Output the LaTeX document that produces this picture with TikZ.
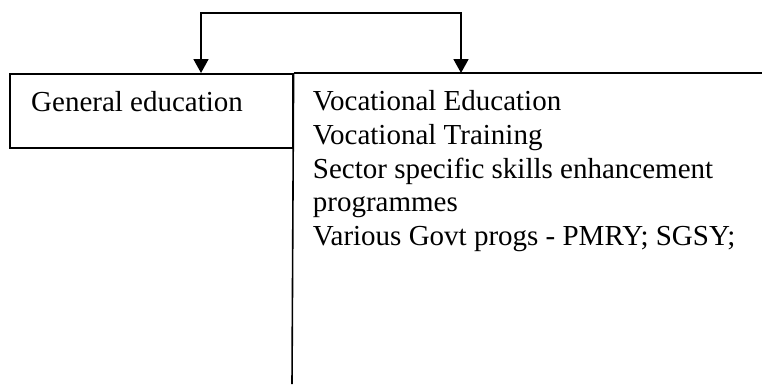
\documentclass[tikz,border=0pt]{standalone}
\usepackage{fontspec}
\setmainfont{Liberation Serif}
\usetikzlibrary{arrows.meta}
\begin{document}
\begin{tikzpicture}[x=1pt,y=-1pt,
  rule/.style={line width=1.6pt},
  link/.style={line width=1.8pt, {Triangle[length=14pt,width=15pt]}-{Triangle[length=14pt,width=15pt]}},
  txt/.style={font=\fontsize{29}{33.75}\selectfont, inner sep=0pt, anchor=base west, align=left}]
\useasboundingbox (0,0) rectangle (762,384);

% left box
\node[draw, rule, minimum width=283pt, minimum height=74pt, inner sep=0pt, anchor=north west] (gen) at (9,73) {};
\node[txt] (gentext) at (31,111.7) {General education};

% right column: top rule and left rule
\coordinate (edge) at (762,73);
\coordinate (bot) at (292,384);
\draw[rule] (gen.north east) -- (edge);
\draw[rule] (gen.north east) -- (bot);
% base anchor of a multi-line node sits on its last line
\node[txt] (voc) at (312.7,245.7) {Vocational Education\\Vocational Training\\Sector specific skills enhancement\\programmes\\Various Govt progs - PMRY; SGSY;};

% bracket with two arrows
\coordinate (ta) at (201,13.3);
\coordinate (tb) at (461,13.3);
\coordinate (ha) at (201,73);
\coordinate (hb) at (461,73);
\draw[link] (ha) -- (ta) -- (tb) -- (hb);
\end{tikzpicture}
\end{document}
